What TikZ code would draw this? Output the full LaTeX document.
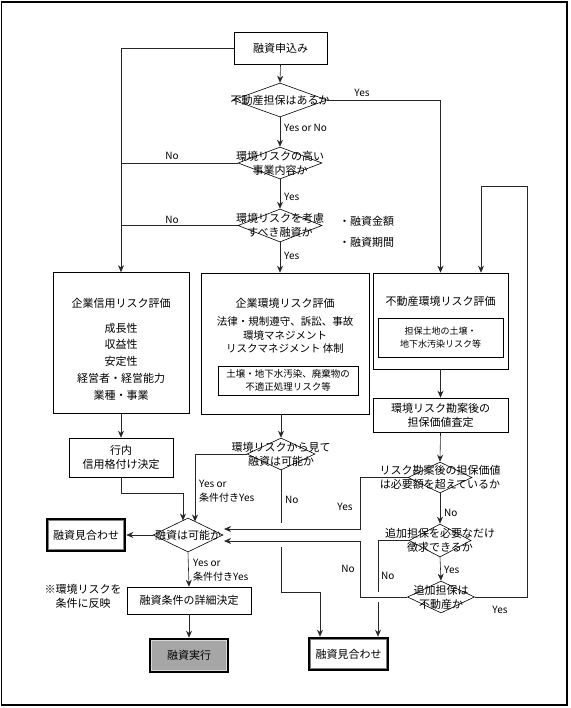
\documentclass[tikz,border=0pt]{standalone}
\usepackage{fontspec}
\setmainfont{Noto Sans CJK JP}
\usetikzlibrary{shapes.geometric,arrows.meta}
\tikzset{
  box/.style={draw, line width=0.6pt, inner sep=0pt, align=center, font=\fontsize{11}{14}\selectfont},
  dia/.style={draw, diamond, line width=0.6pt, inner sep=0pt},
  dtext/.style={align=center, inner sep=0pt, font=\fontsize{11}{14}\selectfont},
  txt/.style={align=center, inner sep=0pt, font=\fontsize{11}{16.7}\selectfont},
  lbl/.style={inner sep=0pt, font=\fontsize{10}{14}\selectfont},
  ln/.style={line width=0.6pt, draw=black!85},
  arr/.style={ln, -{Stealth[length=7pt,width=6pt]}},
  thickbox/.style={draw, line width=2.6pt, inner sep=0pt, align=center, font=\fontsize{11}{14}\selectfont},
}
\begin{document}
\begin{tikzpicture}[x=1pt,y=-1pt]
\useasboundingbox (0,0) rectangle (570,708);
\draw[line width=1.6pt] (1.5,2) rectangle (567,705);

% boxes
\node[box, minimum width=93, minimum height=32] (apply) at (280.5,48) {融資申込み};
\node[box, minimum width=136, minimum height=141] (credit) at (121,343) {};
\node[txt] (creditT) at (121,303) {企業信用リスク評価};
\node[txt] (creditL) at (121,361.5) {成長性\\収益性\\安定性\\経営者・経営能力\\業種・事業};
\node[box, minimum width=168, minimum height=141] (envc) at (285,343.5) {};
\node[txt] (envcT) at (285,303) {企業環境リスク評価};
\node[dtext, font=\fontsize{10.5}{13.5}\selectfont] (envcL) at (285,335.5) {法律・規制遵守、訴訟、事故\\環境マネジメント\\リスクマネジメント 体制};
\node[box, minimum width=140, minimum height=29, font=\fontsize{9.5}{12.5}\selectfont] (envcI) at (288,380.5) {土壌・地下水汚染、廃棄物の\\不適正処理リスク等};
\node[box, minimum width=135, minimum height=96] (re) at (440.5,321) {};
\node[txt] (reT) at (440.5,301) {不動産環境リスク評価};
\node[box, minimum width=125, minimum height=39, font=\fontsize{9}{13}\selectfont] (reI) at (440.5,337.5) {担保土地の土壌・\\地下水汚染リスク等};
\node[box, minimum width=135, minimum height=34] (cv) at (440.5,415) {環境リスク勘案後の\\担保価値査定};
\node[box, minimum width=104, minimum height=39] (rating) at (121,457.5) {行内\\信用格付け決定};
\node[thickbox, minimum width=78, minimum height=32] (rej1) at (86,535) {融資見合わせ};
\draw[gray, line width=0.6pt] ([shift={(3,3)}]rej1.north west) rectangle ([shift={(-3,-3)}]rej1.south east);
\node[box, minimum width=124, minimum height=27] (det) at (189,600.5) {融資条件の詳細決定};
\node[thickbox, fill=black!35, minimum width=78, minimum height=33] (exec) at (189,655.5) {融資実行};
\draw[black!15, line width=0.6pt] ([shift={(3,3)}]exec.north west) rectangle ([shift={(-3,-3)}]exec.south east);
\node[thickbox, minimum width=79, minimum height=32] (rej2) at (348.5,654) {融資見合わせ};
\draw[gray, line width=0.6pt] ([shift={(3,3)}]rej2.north west) rectangle ([shift={(-3,-3)}]rej2.south east);

% diamonds
\node[dia, minimum width=94, minimum height=34] (d1) at (280,100) {};
\node[dia, minimum width=84, minimum height=32] (d2) at (280,163) {};
\node[dia, minimum width=84, minimum height=33] (d3) at (280,225.5) {};
\node[dia, minimum width=68, minimum height=32] (d4) at (281,454) {};
\node[dia, minimum width=70, minimum height=34] (d5) at (188,535) {};
\node[dia, minimum width=64, minimum height=31] (d6) at (440,477.5) {};
\node[dia, minimum width=62, minimum height=33] (d7) at (440,540.5) {};
\node[dia, minimum width=67, minimum height=32] (d8) at (441,597) {};

\node[dtext] (d1t) at (d1) {不動産担保はあるか};
\node[dtext] (d2t) at (d2) {環境リスクの高い\\事業内容か};
\node[dtext] (d3t) at (d3) {環境リスクを考慮\\すべき融資か};
\node[dtext] (d4t) at (d4) {環境リスクから見て\\融資は可能か};
\node[dtext] (d5t) at (d5) {融資は可能か};
\node[dtext] (d6t) at (d6) {リスク勘案後の担保価値\\は必要額を超えているか};
\node[dtext] (d7t) at (d7) {追加担保を必要なだけ\\徴求できるか};
\node[dtext] (d8t) at (d8) {追加担保は\\不動産か};

% free texts
\node[dtext, anchor=west] (amt) at (339,221) {・融資金額};
\node[dtext, anchor=west] (per) at (339,242) {・融資期間};
\node[dtext] (note) at (83,596) {※環境リスクを\\条件に反映};

% coordinates
\coordinate (cL) at (121,48);
\coordinate (r1a) at (121,493);
\coordinate (r1b) at (183,493);
\coordinate (r1c) at (183,520.5);
\coordinate (y4a) at (195,454);
\coordinate (y4b) at (195,521.5);
\coordinate (n4a) at (281,523);
\coordinate (n4b) at (281,547);
\coordinate (n4c) at (281,592);
\coordinate (n4d) at (320,592);
\coordinate (y6a) at (360,477.5);
\coordinate (y6b) at (360,529);
\coordinate (y6c) at (224,529);
\coordinate (n7a) at (378,540.5);
\coordinate (n7b) at (378,592);
\coordinate (n7c) at (378,602);
\coordinate (n8a) at (360,597);
\coordinate (n8b) at (360,541);
\coordinate (n8c) at (224,541);
\coordinate (y8a) at (527,597);
\coordinate (y8b) at (527,186);
\coordinate (y8c) at (481,186);

% connectors
\draw[arr] (apply.west) -- (cL) -- (credit.north);
\draw[arr] (apply.south) -- (d1.north);
\draw[arr] (d1.east) -| (re.north);
\draw[arr] (d1.south) -- (d2.north);
\draw[ln] (d2.west) -- (d2.west -| cL);
\draw[arr] (d2.south) -- (d3.north);
\draw[ln] (d3.west) -- (d3.west -| cL);
\draw[arr] (d3.south) -- (d3.south |- envc.north);
\draw[arr] (credit.south) -- (rating.north);
\draw[arr] (rating.south) -- (r1a) -- (r1b) -- (r1c);
\draw[arr] (d4.north |- envc.south) -- (d4.north);
\draw[arr] (d4.west) -- (y4a) -- (y4b);
\draw[ln] (d4.south) -- (n4a);
\draw[arr] (n4b) -- (n4c) -- (n4d) -- (n4d |- rej2.north);
\draw[arr] (d5.west) -- (rej1.east);
\draw[arr] (d5.south) -- (det.north);
\draw[arr] (det.south) -- (exec.north);
\draw[arr] (re.south) -- (cv.north);
\draw[arr] (cv.south) -- (d6.north);
\draw[arr] (d6.west) -- (y6a) -- (y6b) -- (y6c);
\draw[arr] (d6.south) -- (d7.north);
\draw[ln] (d7.west) -- (n7a) -- (n7b);
\draw[arr] (n7c) -- (n7c |- rej2.north);
\draw[arr] (d7.south) -- (d8.north);
\draw[arr] (d8.west) -- (n8a) -- (n8b) -- (n8c);
\draw[arr] (d8.east) -- (y8a) -- (y8b) -- (y8c) -- (y8c |- re.north);

% labels
\node[lbl] (l1) at (362,93) {Yes};
\node[lbl, anchor=west] (l2) at (284,128) {Yes or No};
\node[lbl] (l3) at (172,156) {No};
\node[lbl, anchor=west] (l4) at (284,197) {Yes};
\node[lbl] (l5) at (172,220) {No};
\node[lbl, anchor=west] (l6) at (284,256) {Yes};
\node[lbl, anchor=west, align=left] (l7) at (199,491) {Yes or\\条件付きYes};
\node[lbl, anchor=west] (l8) at (285,500) {No};
\node[lbl, anchor=west, align=left] (l9) at (193,570) {Yes or\\条件付きYes};
\node[lbl] (l10) at (345,507) {Yes};
\node[lbl, anchor=west] (l11) at (444,513) {No};
\node[lbl] (l12) at (348,569) {No};
\node[lbl, anchor=west] (l13) at (381,576) {No};
\node[lbl, anchor=west] (l14) at (444,570) {Yes};
\node[lbl] (l15) at (500,610) {Yes};
\end{tikzpicture}
\end{document}
